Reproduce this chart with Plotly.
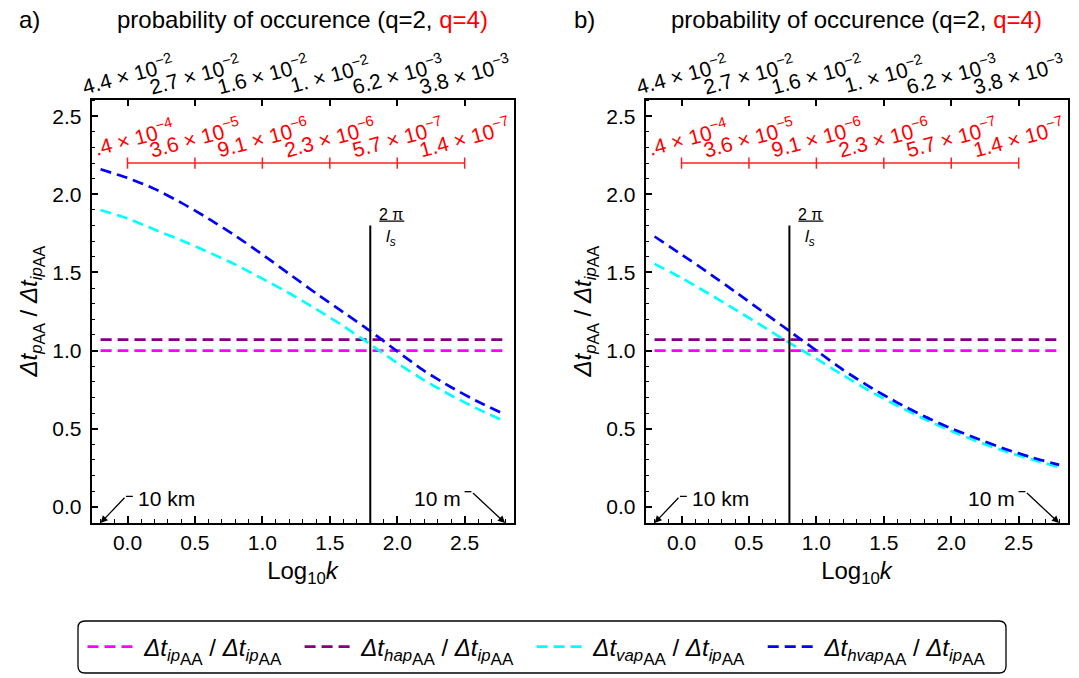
import plotly.graph_objects as go

W, H = 1079, 678

# Log10 k sample points shared by all curves
log_k = [-0.2, 0.0, 0.2, 0.4, 0.6, 0.8, 1.0, 1.2, 1.4, 1.6, 1.8, 2.0, 2.2, 2.4, 2.6, 2.8]

# panel a) ratios
a_ip = [1.0] * len(log_k)
a_hap = [1.07] * len(log_k)
a_vap = [1.90, 1.845, 1.775, 1.705, 1.63, 1.55, 1.46, 1.367, 1.265, 1.157, 1.04, 0.92, 0.81, 0.712, 0.625, 0.545]
a_hvap = [2.16, 2.105, 2.035, 1.945, 1.845, 1.735, 1.615, 1.49, 1.365, 1.245, 1.125, 0.995, 0.87, 0.765, 0.672, 0.59]

# panel b) ratios
b_ip = [1.0] * len(log_k)
b_hap = [1.07] * len(log_k)
b_vap = [1.555, 1.465, 1.365, 1.262, 1.156, 1.049, 0.948, 0.841, 0.739, 0.647, 0.562, 0.485, 0.416, 0.355, 0.302, 0.254]
b_hvap = [1.73, 1.615, 1.497, 1.375, 1.25, 1.125, 1.0, 0.875, 0.765, 0.667, 0.579, 0.501, 0.433, 0.37, 0.315, 0.268]

# 2*pi/l_s marker position and height
ls_pos = {"a": 1.8, "b": 0.8}
ls_top = 1.8

# probability-of-occurrence scale (top)
prob_ticks = [0.0, 0.5, 1.0, 1.5, 2.0, 2.5]
prob_q2 = ["4.4 × 10<sup>−2</sup>", "2.7 × 10<sup>−2</sup>", "1.6 × 10<sup>−2</sup>",
           "1. × 10<sup>−2</sup>", "6.2 × 10<sup>−3</sup>", "3.8 × 10<sup>−3</sup>"]
prob_q4 = [".4 × 10<sup>−4</sup>", "3.6 × 10<sup>−5</sup>", "9.1 × 10<sup>−6</sup>",
           "2.3 × 10<sup>−6</sup>", "5.7 × 10<sup>−7</sup>", "1.4 × 10<sup>−7</sup>"]
q4_scale_y = 2.2

x_ticks = [0.0, 0.5, 1.0, 1.5, 2.0, 2.5]
y_ticks = [0.0, 0.5, 1.0, 1.5, 2.0, 2.5]
x_range = [-0.267, 2.862]
y_range = [-0.104, 2.607]

FONT = "Liberation Sans, Arial, sans-serif"
DASH = "11px,6px"
LW = 2.7
NB = "\u00a0"


def px(x):
    return x / W


def py(y):
    return 1 - y / H


def ratio(name, aa_size):
    return (f"<i>Δt</i><sub><i>{name}</i><sub>"
            f"<span style='font-size:{aa_size}px'>AA</span></sub></sub>")


legend_names = [f"{NB}{ratio(n, 17)} / {ratio('ip', 17)}{NB}{NB}" for n in ["ip", "hap", "vap", "hvap"]]
colors = ["#ff00ff", "#800080", "#00ffff", "#0000ff"]

fig = go.Figure()

panels = [
    ("a", "x", "y", "x3", [a_ip, a_hap, a_vap, a_hvap]),
    ("b", "x2", "y2", "x4", [b_ip, b_hap, b_vap, b_hvap]),
]

for tag, xa, ya, xtop, series in panels:
    for i, (vals, col) in enumerate(zip(series, colors)):
        fig.add_trace(go.Scatter(
            x=log_k, y=vals, mode="lines", xaxis=xa, yaxis=ya,
            line=dict(color=col, width=LW, dash=DASH, shape="spline", smoothing=0.6),
            name=legend_names[i], showlegend=(tag == "a"),
        ))
    # vertical marker at 2*pi/l_s
    fig.add_trace(go.Scatter(
        x=[ls_pos[tag], ls_pos[tag]], y=[y_range[0], ls_top], mode="lines",
        xaxis=xa, yaxis=ya, line=dict(color="black", width=2), showlegend=False,
        hoverinfo="skip",
    ))
    # red q=4 scale with its ticks
    fig.add_trace(go.Scatter(
        x=[prob_ticks[0], prob_ticks[-1]], y=[q4_scale_y, q4_scale_y], mode="lines",
        xaxis=xtop, yaxis=ya, line=dict(color="#ff2020", width=1.5), showlegend=False,
        hoverinfo="skip",
    ))
    fig.add_trace(go.Scatter(
        x=prob_ticks, y=[q4_scale_y] * len(prob_ticks), mode="markers",
        xaxis=xtop, yaxis=ya,
        marker=dict(symbol="line-ns", size=8, line=dict(color="#ff2020", width=1.5)),
        showlegend=False, hoverinfo="skip",
    ))

axis_common = dict(
    range=x_range, tickvals=x_ticks, tickformat=".1f", ticks="inside", ticklen=7,
    tickwidth=1.5, tickcolor="black", showline=True, linecolor="black", linewidth=1.6,
    showgrid=False, zeroline=False, tickfont=dict(family=FONT, size=21, color="black"),
    minor=dict(dtick=0.1, tick0=0, ticks="inside", ticklen=4, tickwidth=1.3, tickcolor="black"),
    title=dict(text="Log<sub>10</sub><i>k</i>", font=dict(family=FONT, size=24, color="black"),
               standoff=9),
    ticklabelstandoff=0,
)
yaxis_common = dict(
    range=y_range, tickvals=y_ticks, tickformat=".1f", ticks="inside", ticklen=7,
    tickwidth=1.5, tickcolor="black", showline=True, linecolor="black", linewidth=1.6,
    mirror=True, showgrid=False, zeroline=False,
    tickfont=dict(family=FONT, size=21, color="black"),
    minor=dict(dtick=0.1, tick0=0, ticks="inside", ticklen=4, tickwidth=1.3, tickcolor="black"),
    title=dict(text=f"{ratio('p', 16)} / {ratio('ip', 16)}",
               font=dict(family=FONT, size=24, color="black"), standoff=8),
    ticklabelstandoff=4,
)
top_common = dict(
    range=x_range, tickvals=prob_ticks, ticks="inside", ticklen=7, tickwidth=1.5,
    tickcolor="black", showticklabels=False, showline=True, linecolor="black",
    linewidth=1.6, showgrid=False, zeroline=False, side="top",
)

dom_a = [px(91.5), px(513.5)]
dom_b = [px(645.5), px(1067.5)]
dom_y = [py(523), py(99.5)]

fig.update_layout(
    width=W, height=H, margin=dict(l=0, r=0, t=0, b=0),
    paper_bgcolor="white", plot_bgcolor="white",
    font=dict(family=FONT, color="black"),
    xaxis=dict(domain=dom_a, anchor="y", **axis_common),
    yaxis=dict(domain=dom_y, anchor="x", **yaxis_common),
    xaxis2=dict(domain=dom_b, anchor="y2", **axis_common),
    yaxis2=dict(domain=dom_y, anchor="x2", **yaxis_common),
    xaxis3=dict(overlaying="x", anchor="y", **top_common),
    xaxis4=dict(overlaying="x2", anchor="y2", **top_common),
    legend=dict(orientation="h", x=px(543), xanchor="center", y=py(647), yanchor="middle",
                font=dict(family=FONT, size=24, color="black"), bgcolor="rgba(0,0,0,0)",
                itemwidth=45, traceorder="normal"),
    showlegend=True,
)

annotations = []
shapes = []

# panel letters and top titles
for letter, lx, cx in [("a)", 29.5, 302.5), ("b)", 584.5, 856.5)]:
    annotations.append(dict(text=letter, x=px(lx), y=py(20), xref="paper", yref="paper",
                            xanchor="center", yanchor="middle",
                            showarrow=False, font=dict(size=24)))
    annotations.append(dict(
        text="probability of occurence (q=2, <span style='color:#ff0000'>q=4)</span>",
        x=px(cx), y=py(20), xref="paper", yref="paper", xanchor="center", yanchor="middle",
        showarrow=False, font=dict(size=24)))

for tag, xa, ya in [("a", "x", "y"), ("b", "x2", "y2")]:
    # rotated probability labels
    for i, (t, l2, l4) in enumerate(zip(prob_ticks, prob_q2, prob_q4)):
        annotations.append(dict(text=l2, x=t, y=py(74), xref=xa, yref="paper",
                                xanchor="center", yanchor="middle",
                                showarrow=False, textangle=-15,
                                font=dict(size=21, color="black")))
        annotations.append(dict(text=l4, x=t, y=py(137), xref=xa, yref="paper",
                                xanchor="center", yanchor="middle",
                                showarrow=False, textangle=-15,
                                xshift=(6 if i == 0 else 0),
                                font=dict(size=21, color="#ff0000")))
    # 2*pi / l_s label
    xl = ls_pos[tag]
    annotations.append(dict(text="2 π", x=xl, y=1.874, xref=xa, yref=ya, xshift=21,
                            showarrow=False, font=dict(size=16)))
    annotations.append(dict(text="<i>l</i><sub><i>s</i></sub>", x=xl, y=1.72, xref=xa,
                            yref=ya, xshift=21, showarrow=False, font=dict(size=17)))
    shapes.append(dict(type="line", xref=xa, yref=ya, xsizemode="pixel", xanchor=xl,
                       x0=9, x1=34, y0=1.829, y1=1.829, line=dict(color="black", width=1.3)))

    # scale markers at 10 km and 10 m
    x_lo, x_hi = log_k[0], log_k[-1]
    yb = y_range[0]
    annotations.append(dict(text="", x=x_lo, y=yb, xref=xa, yref=ya, ax=25.4, ay=-26.7,
                            showarrow=True, arrowhead=2, arrowsize=1.1, arrowwidth=1.3,
                            arrowcolor="black"))
    shapes.append(dict(type="line", xref=xa, yref=ya, xsizemode="pixel", xanchor=x_lo,
                       ysizemode="pixel", yanchor=yb, x0=25.4, x1=32.3, y0=26.7, y1=26.7,
                       line=dict(color="black", width=1.3)))
    annotations.append(dict(text="10 km", x=x_lo, y=yb, xref=xa, yref=ya, xshift=35.7,
                            yshift=25, xanchor="left", yanchor="middle", showarrow=False,
                            font=dict(size=21)))
    annotations.append(dict(text="", x=x_hi, y=yb, xref=xa, yref=ya, ax=-33.7, ay=-31.3,
                            showarrow=True, arrowhead=2, arrowsize=1.1, arrowwidth=1.3,
                            arrowcolor="black"))
    shapes.append(dict(type="line", xref=xa, yref=ya, xsizemode="pixel", xanchor=x_hi,
                       ysizemode="pixel", yanchor=yb, x0=-40.6, x1=-33.7, y0=31.3, y1=31.3,
                       line=dict(color="black", width=1.3)))
    annotations.append(dict(text="10 m", x=x_hi, y=yb, xref=xa, yref=ya, xshift=-42.5,
                            yshift=25, xanchor="right", yanchor="middle", showarrow=False,
                            font=dict(size=21)))

# rounded legend frame
L, R, T, B, r = 78, 1006, 621, 673, 7
path = (f"M {px(L + r)} {py(T)} L {px(R - r)} {py(T)} Q {px(R)} {py(T)} {px(R)} {py(T + r)} "
        f"L {px(R)} {py(B - r)} Q {px(R)} {py(B)} {px(R - r)} {py(B)} "
        f"L {px(L + r)} {py(B)} Q {px(L)} {py(B)} {px(L)} {py(B - r)} "
        f"L {px(L)} {py(T + r)} Q {px(L)} {py(T)} {px(L + r)} {py(T)} Z")
shapes.append(dict(type="path", xref="paper", yref="paper", path=path,
                   line=dict(color="black", width=1.3)))

fig.update_layout(annotations=annotations, shapes=shapes)
fig.write_html("out.html")
